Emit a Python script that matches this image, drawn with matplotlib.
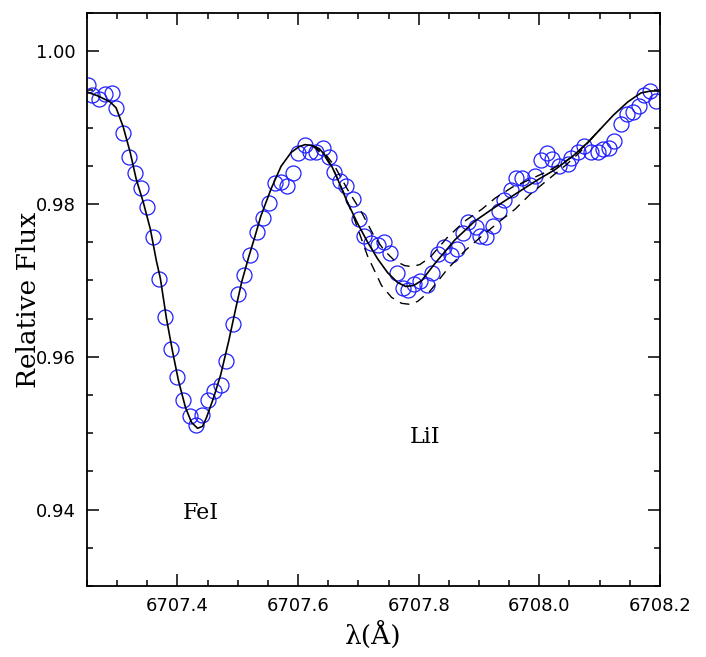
import numpy as np
import matplotlib.pyplot as plt
from matplotlib.ticker import MultipleLocator, FormatStrFormatter

# observed spectrum (circles)
obs_wave = np.array([
    6707.2517, 6707.2583, 6707.2700, 6707.2800, 6707.2917, 6707.2983, 6707.3100,
    6707.3200, 6707.3300, 6707.3400, 6707.3500, 6707.3600, 6707.3700, 6707.3800,
    6707.3900, 6707.4000, 6707.4100, 6707.4200, 6707.4300, 6707.4400, 6707.4500,
    6707.4600, 6707.4717, 6707.4800, 6707.4917, 6707.5000, 6707.5100, 6707.5200,
    6707.5317, 6707.5417, 6707.5517, 6707.5617, 6707.5717, 6707.5817, 6707.5917,
    6707.6000, 6707.6117, 6707.6200, 6707.6300, 6707.6417, 6707.6517, 6707.6600,
    6707.6700, 6707.6800, 6707.6917, 6707.7017, 6707.7100, 6707.7217, 6707.7317,
    6707.7417, 6707.7517, 6707.7633, 6707.7733, 6707.7817, 6707.7917, 6707.8017,
    6707.8133, 6707.8217, 6707.8317, 6707.8417, 6707.8533, 6707.8633, 6707.8733,
    6707.8817, 6707.8950, 6707.9017, 6707.9117, 6707.9233, 6707.9333, 6707.9417,
    6707.9533, 6707.9617, 6707.9717, 6707.9850, 6707.9933, 6708.0033, 6708.0133,
    6708.0217, 6708.0333, 6708.0467, 6708.0533, 6708.0633, 6708.0733, 6708.0850,
    6708.0967, 6708.1050, 6708.1150, 6708.1233, 6708.1350, 6708.1450, 6708.1550,
    6708.1650, 6708.1733, 6708.1833, 6708.1933])
obs_flux = np.array([
    0.99558, 0.99429, 0.99377, 0.99442, 0.99455, 0.99260, 0.98935,
    0.98623, 0.98403, 0.98208, 0.97961, 0.97571, 0.97026, 0.96519,
    0.96104, 0.95740, 0.95429, 0.95221, 0.95104, 0.95234, 0.95442,
    0.95558, 0.95636, 0.95948, 0.96429, 0.96818, 0.97078, 0.97338,
    0.97636, 0.97818, 0.98013, 0.98273, 0.98286, 0.98234, 0.98403,
    0.98675, 0.98779, 0.98688, 0.98688, 0.98740, 0.98623, 0.98416,
    0.98299, 0.98234, 0.98065, 0.97805, 0.97584, 0.97494, 0.97468,
    0.97506, 0.97364, 0.97104, 0.96896, 0.96870, 0.96948, 0.96987,
    0.96935, 0.97104, 0.97351, 0.97442, 0.97338, 0.97416, 0.97623,
    0.97766, 0.97701, 0.97584, 0.97571, 0.97714, 0.97909, 0.98052,
    0.98182, 0.98338, 0.98338, 0.98247, 0.98364, 0.98571, 0.98675,
    0.98584, 0.98494, 0.98519, 0.98610, 0.98688, 0.98766, 0.98688,
    0.98688, 0.98727, 0.98740, 0.98831, 0.99052, 0.99182, 0.99208,
    0.99286, 0.99429, 0.99481, 0.99351])

# best-fit synthetic spectrum (solid)
fit_wave = np.array([
    6707.2500, 6707.2683, 6707.2883, 6707.2983, 6707.3100, 6707.3217, 6707.3317,
    6707.3433, 6707.3550, 6707.3650, 6707.3717, 6707.3817, 6707.3917, 6707.4017,
    6707.4133, 6707.4233, 6707.4333, 6707.4417, 6707.4483, 6707.4600, 6707.4717,
    6707.4850, 6707.4967, 6707.5067, 6707.5183, 6707.5283, 6707.5383, 6707.5550,
    6707.5717, 6707.5883, 6707.6017, 6707.6117, 6707.6233, 6707.6350, 6707.6467,
    6707.6567, 6707.6650, 6707.6817, 6707.6983, 6707.7150, 6707.7317, 6707.7483,
    6707.7650, 6707.7783, 6707.7917, 6707.8050, 6707.8267, 6707.8600, 6707.8933,
    6707.9267, 6707.9600, 6707.9933, 6708.0267, 6708.0567, 6708.0800, 6708.1017,
    6708.1233, 6708.1467, 6708.1683, 6708.1850, 6708.2000])
fit_flux = np.array([
    0.99468, 0.99416, 0.99338, 0.99260, 0.99013, 0.98675, 0.98325,
    0.98026, 0.97675, 0.97260, 0.97026, 0.96506, 0.96078, 0.95688,
    0.95338, 0.95143, 0.95065, 0.95091, 0.95208, 0.95468, 0.95766,
    0.96208, 0.96636, 0.96987, 0.97312, 0.97571, 0.97844, 0.98195,
    0.98494, 0.98675, 0.98753, 0.98779, 0.98766, 0.98727, 0.98623,
    0.98481, 0.98338, 0.98026, 0.97753, 0.97506, 0.97286, 0.97104,
    0.96974, 0.96922, 0.96935, 0.97000, 0.97221, 0.97532, 0.97779,
    0.97961, 0.98130, 0.98299, 0.98455, 0.98636, 0.98805, 0.98987,
    0.99169, 0.99338, 0.99455, 0.99481, 0.99481])

# syntheses with lower / higher Li abundance (dashed)
lo_li_wave = np.array([
    6707.6233, 6707.6433, 6707.6600, 6707.6817, 6707.7050, 6707.7267, 6707.7433,
    6707.7600, 6707.7767, 6707.7883, 6707.8017, 6707.8183, 6707.8483, 6707.8767,
    6707.9050, 6707.9267, 6707.9550, 6707.9850, 6708.0100, 6708.0350, 6708.0600,
    6708.0850, 6708.1017])
lo_li_flux = np.array([
    0.98766, 0.98675, 0.98506, 0.98195, 0.97896, 0.97571, 0.97390,
    0.97260, 0.97195, 0.97182, 0.97208, 0.97299, 0.97571, 0.97779,
    0.97935, 0.98078, 0.98221, 0.98325, 0.98416, 0.98519, 0.98649,
    0.98844, 0.98987])
hi_li_wave = np.array([
    6707.6233, 6707.6433, 6707.6600, 6707.6767, 6707.6933, 6707.7150, 6707.7383,
    6707.7550, 6707.7717, 6707.7850, 6707.7983, 6707.8183, 6707.8483, 6707.8767,
    6707.9050, 6707.9350, 6707.9600, 6707.9850, 6708.0150, 6708.0433, 6708.0683,
    6708.0850, 6708.1017])
hi_li_flux = np.array([
    0.98766, 0.98636, 0.98429, 0.98130, 0.97805, 0.97325, 0.96935,
    0.96779, 0.96701, 0.96688, 0.96727, 0.96857, 0.97156, 0.97390,
    0.97584, 0.97779, 0.97935, 0.98130, 0.98325, 0.98506, 0.98688,
    0.98844, 0.98987])

fig = plt.figure(figsize=(7.06, 6.57), dpi=100)
ax = fig.add_axes([0.1232, 0.108, 0.8116, 0.872])

ax.plot(obs_wave, obs_flux, 'o', mfc='none', mec='#1f1fff', ms=10.8, mew=0.9)
ax.plot(fit_wave, fit_flux, color='black', lw=1.2)
ax.plot(lo_li_wave, lo_li_flux, color='black', lw=1.0, dashes=(7, 5))
ax.plot(hi_li_wave, hi_li_flux, color='black', lw=1.0, dashes=(7, 5))

ax.set_xlim(6707.25, 6708.2)
ax.set_ylim(0.93, 1.005)

ax.xaxis.set_major_locator(MultipleLocator(0.2))
ax.xaxis.set_minor_locator(MultipleLocator(0.05))
ax.yaxis.set_major_locator(MultipleLocator(0.02))
ax.yaxis.set_minor_locator(MultipleLocator(0.005))
ax.xaxis.set_major_formatter(FormatStrFormatter('%.1f'))
ax.yaxis.set_major_formatter(FormatStrFormatter('%.2f'))

ax.tick_params(which='both', direction='in', top=True, right=True, width=1.1)
ax.tick_params(which='major', length=8.5, labelsize=13, pad=8)
ax.tick_params(which='minor', length=4.3)
for s in ax.spines.values():
    s.set_linewidth(1.3)

ax.text(6707.438, 0.9395, 'FeI', family='DejaVu Serif', fontsize=16, ha='center', va='center')
ax.text(6707.81, 0.9495, 'LiI', family='DejaVu Serif', fontsize=16, ha='center', va='center')

ax.set_xlabel('λ(Å)', family='DejaVu Serif', fontsize=19)
ax.set_ylabel('Relative Flux', family='DejaVu Serif', fontsize=19)
ax.xaxis.set_label_coords(0.5, -0.06)
ax.yaxis.set_label_coords(-0.08, 0.5)

fig.savefig('out.png', dpi=100)
